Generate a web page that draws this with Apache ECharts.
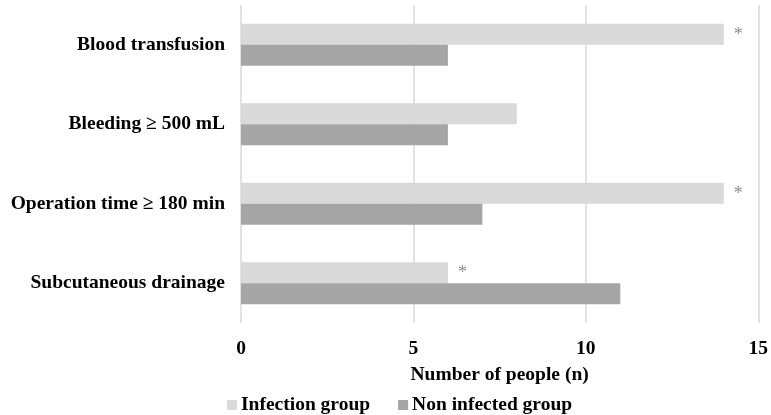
<!DOCTYPE html>
<html>
<head>
<meta charset="utf-8">
<script src="https://cdn.jsdelivr.net/npm/echarts@6/dist/echarts.min.js"></script>
<style>
  html, body { margin: 0; padding: 0; background: #fff; }
  #chart { width: 771px; height: 415px; }
</style>
</head>
<body>
<div id="chart"></div>
<script>
// Risk factors and counts per group
const categories = ['Blood transfusion', 'Bleeding \u2265 500 mL', 'Operation time \u2265 180 min', 'Subcutaneous drainage'];
const infectionGroup = [14, 8, 14, 6];
const nonInfectedGroup = [6, 6, 7, 11];
const significance = ['*', '', '*', '*'];
const xTicks = { min: 0, max: 15, interval: 5 };

const serif = '"Liberation Serif", "Times New Roman", serif';
const boldText = { fontFamily: serif, fontWeight: 'bold', fontSize: 19.5, color: '#000' };

const chart = echarts.init(document.getElementById('chart'));
chart.setOption({
  animation: false,
  textStyle: { fontFamily: serif },
  grid: { left: 241, right: 12, top: 5, bottom: 92 },
  legend: {
    data: ['Infection group', 'Non infected group'],
    left: 222,
    top: 390,
    itemWidth: 10,
    itemHeight: 10,
    itemGap: 28,
    icon: 'rect',
    textStyle: Object.assign({}, boldText, { padding: [0, 0, 0, -1] })
  },
  xAxis: {
    type: 'value',
    min: xTicks.min,
    max: xTicks.max,
    interval: xTicks.interval,
    name: 'Number of people (n)',
    nameLocation: 'middle',
    nameGap: 52,
    nameTextStyle: Object.assign({}, boldText, { verticalAlign: 'middle' }),
    axisLine: { show: false },
    axisTick: { show: false },
    axisLabel: Object.assign({}, boldText, { margin: 16 }),
    splitLine: { show: true, lineStyle: { color: '#d9d9d9', width: 1.5 } }
  },
  yAxis: {
    type: 'category',
    data: categories,
    inverse: true,
    axisLine: { show: false },
    axisTick: { show: false },
    axisLabel: Object.assign({}, boldText, { margin: 16 })
  },
  series: [
    {
      name: 'Infection group',
      type: 'bar',
      data: infectionGroup,
      barGap: '0%',
      barCategoryGap: '47%',
      itemStyle: { color: '#d9d9d9' },
      label: {
        show: true,
        position: 'right',
        distance: 10,
        offset: [0, 1],
        color: '#8c8c8c',
        fontSize: 18,
        fontFamily: serif,
        formatter: p => significance[p.dataIndex]
      }
    },
    {
      name: 'Non infected group',
      type: 'bar',
      data: nonInfectedGroup,
      itemStyle: { color: '#a5a5a5' }
    }
  ]
});
</script>
</body>
</html>
